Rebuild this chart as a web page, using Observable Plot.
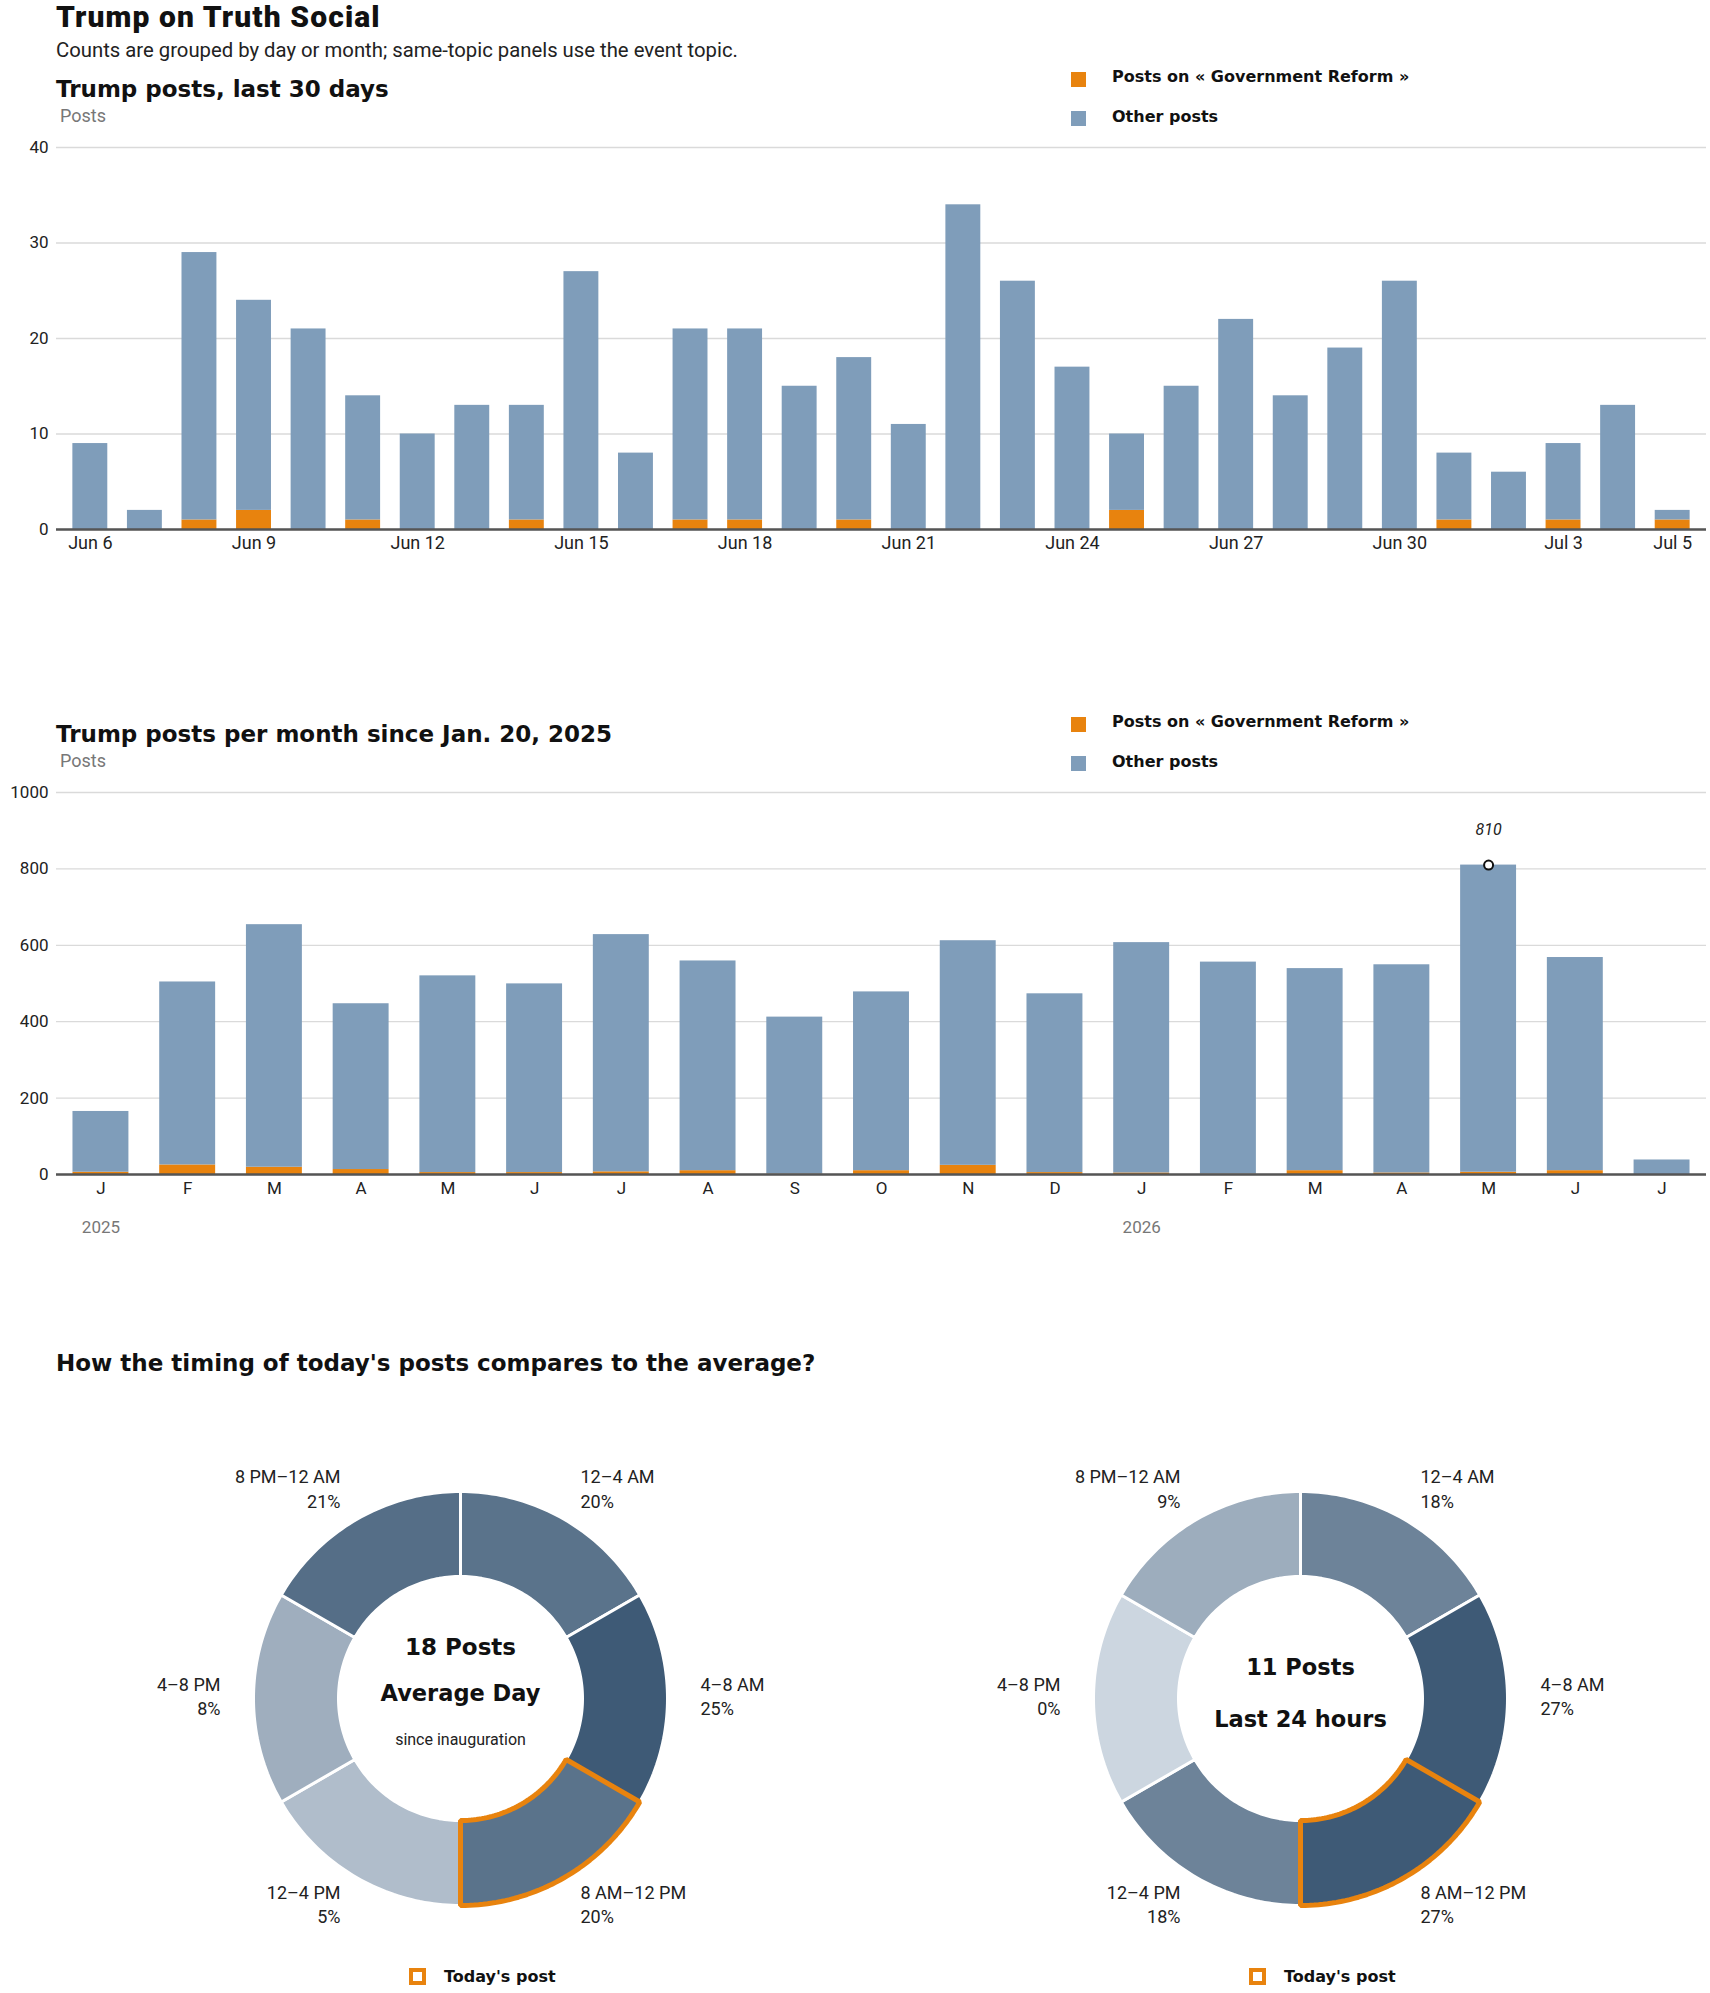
<!DOCTYPE html>
<html>
<head>
<meta charset="utf-8">
<script src="https://cdn.jsdelivr.net/npm/d3@7"></script>
<script src="https://cdn.jsdelivr.net/npm/@observablehq/plot@0.6"></script>
<style>
  body { margin: 0; background: #fff; }
  #page { position: relative; width: 1710px; height: 1993px; overflow: hidden;
          font-family: Roboto, "Noto Sans", sans-serif; color: #111; background: #fff; }
  .t { position: absolute; white-space: nowrap; line-height: 1; }
  .box { position: absolute; box-sizing: border-box; }
  .plot { position: absolute; }
</style>
</head>
<body>
<div id="page"></div>
<script>
// ---------------- data ----------------
const mainTitle = "Trump on Truth Social";
const subtitle = "Counts are grouped by day or month; same-topic panels use the event topic.";
const topicName = "Government Reform";
const legendLabels = [`Posts on « ${topicName} »`, "Other posts"];
const dayChartTitle = "Trump posts, last 30 days";
const monthChartTitle = "Trump posts per month since Jan. 20, 2025";
const yAxisLabel = "Posts";

const days = ["Jun 6","Jun 7","Jun 8","Jun 9","Jun 10","Jun 11","Jun 12","Jun 13","Jun 14","Jun 15",
  "Jun 16","Jun 17","Jun 18","Jun 19","Jun 20","Jun 21","Jun 22","Jun 23","Jun 24","Jun 25",
  "Jun 26","Jun 27","Jun 28","Jun 29","Jun 30","Jul 1","Jul 2","Jul 3","Jul 4","Jul 5"];
const dayTotals = [9, 2, 29, 24, 21, 14, 10, 13, 13, 27, 8, 21, 21, 15, 18, 11, 34, 26, 17, 10, 15, 22, 14, 19, 26, 8, 6, 9, 13, 2];
const dayTopic  = [0, 0, 1, 2, 0, 1, 0, 0, 1, 0, 0, 1, 1, 0, 1, 0, 0, 0, 0, 2, 0, 0, 0, 0, 0, 1, 0, 1, 0, 1];
const dayTicks = ["Jun 6","Jun 9","Jun 12","Jun 15","Jun 18","Jun 21","Jun 24","Jun 27","Jun 30","Jul 3","Jul 5"];
const dayYTicks = [0, 10, 20, 30, 40];

const months = ["2025-01","2025-02","2025-03","2025-04","2025-05","2025-06","2025-07","2025-08","2025-09",
  "2025-10","2025-11","2025-12","2026-01","2026-02","2026-03","2026-04","2026-05","2026-06","2026-07"];
const monthLetters = ["J","F","M","A","M","J","J","A","S","O","N","D","J","F","M","A","M","J","J"];
const monthTotals = [165, 504, 654, 447, 520, 499, 628, 559, 412, 478, 612, 473, 607, 556, 539, 549, 810, 568, 38];
const monthTopic  = [6, 25, 19, 13, 5, 5, 7, 10, 1, 10, 24, 5, 4, 1, 10, 4, 6, 10, 0];
const yearTicks = ["2025-01", "2026-01"];
const yearLabels = ["2025", "2026"];
const monthYTicks = [0, 200, 400, 600, 800, 1000];

const donutTitle = "How the timing of today's posts compares to the average?";
const timeSlots = ["12–4 AM", "4–8 AM", "8 AM–12 PM", "12–4 PM", "4–8 PM", "8 PM–12 AM"];
const avgShare = [20, 25, 20, 5, 8, 21];
const todayShare = [18, 27, 27, 18, 0, 9];
const avgCenter = ["18 Posts", "Average Day", "since inauguration"];
const todayCenter = ["11 Posts", "Last 24 hours"];
const todaySlot = "8 AM–12 PM";
const todayLegend = "Today's post";

// ---------------- styles ----------------
const ORANGE = "#e8830e", BLUE = "#7f9dba", GRID = "#dadada", AXIS = "#555";
const LIGHT = "#ccd6e0", DARK = "#3e5a76";
const FONT = "Roboto, 'Noto Sans', sans-serif";
const HEAVY = "'DejaVu Sans', Verdana, sans-serif";
const page = document.getElementById("page");

function text(str, x, baseline, size, weight, color, extra = {}) {
  const d = document.createElement("div");
  d.className = "t";
  d.textContent = str;
  Object.assign(d.style, {left: x + "px", top: (baseline - 0.845 * size) + "px",
    fontSize: size + "px", fontWeight: weight, color, ...extra});
  page.appendChild(d);
  return d;
}
function heavy(str, x, baseline, size) {
  return text(str, x, baseline, size, 700, "#111", {fontFamily: HEAVY});
}
function box(x, y, w, h, style) {
  const d = document.createElement("div");
  d.className = "box";
  Object.assign(d.style, {left: x + "px", top: y + "px", width: w + "px", height: h + "px", ...style});
  page.appendChild(d);
}
function place(svg, x, y) {
  svg.classList.add("plot");
  svg.style.left = x + "px";
  svg.style.top = y + "px";
  page.appendChild(svg);
}

// ---------------- header ----------------
text(mainTitle, 56, 27, 30, 900, "#111", {letterSpacing: "1.1px"});
text(subtitle, 56, 57.5, 20.3, 400, "#222");

// ---------------- bar charts ----------------
function barBlock({T, title, keys, totals, topic, ticks, tickFormat, tickSize, yTicks, yMax,
                   paddingInner, paddingOuter, height, marginBottom, extra}) {
  heavy(title, 56, T + 97, 23);
  text(yAxisLabel, 60, T + 122.3, 18, 400, "#777");
  box(1071, T + 71.7, 15, 15, {background: ORANGE});
  box(1071, T + 110.7, 15, 15, {background: BLUE});
  heavy(legendLabels[0], 1112, T + 82.3, 16);
  heavy(legendLabels[1], 1112, T + 122.3, 16);

  const rows = keys.flatMap((k, i) => [
    {k, s: "topic", n: topic[i]},
    {k, s: "other", n: totals[i] - topic[i]}
  ]);
  const svg = Plot.plot({
    width: 1710, height, marginTop: 17, marginBottom, marginLeft: 56, marginRight: 4,
    style: {fontFamily: FONT, fontSize: "17px", color: "#222", background: "transparent", overflow: "visible"},
    x: {type: "band", domain: keys, paddingInner, paddingOuter, round: false, label: null},
    y: {domain: [0, yMax], label: null},
    color: {domain: ["topic", "other"], range: [ORANGE, BLUE]},
    marks: [
      Plot.gridY({ticks: yTicks, stroke: GRID, strokeOpacity: 1, strokeWidth: 1.3}),
      Plot.axisY({ticks: yTicks, tickFormat: d3.format("d"), tickSize: 0, tickPadding: 8, label: null, fontSize: 17}),
      Plot.barY(rows, {x: "k", y: "n", fill: "s"}),
      Plot.ruleY([0], {stroke: AXIS, strokeWidth: 2.5}),
      Plot.axisX({ticks, tickFormat, tickSize: 0, tickPadding: 7, label: null, fontSize: tickSize}),
      ...(extra || [])
    ]
  });
  place(svg, 0, T + 130);
}

barBlock({
  T: 0, title: dayChartTitle, keys: days, totals: dayTotals, topic: dayTopic,
  ticks: dayTicks, tickFormat: d => d, tickSize: 18, yTicks: dayYTicks, yMax: 40,
  paddingInner: 0.36, paddingOuter: 0.3, height: 440, marginBottom: 41
});

const peak = d3.maxIndex(monthTotals);
barBlock({
  T: 645, title: monthChartTitle, keys: months, totals: monthTotals, topic: monthTopic,
  ticks: months, tickFormat: d => monthLetters[months.indexOf(d)], tickSize: 17,
  yTicks: monthYTicks, yMax: 1000, paddingInner: 0.355, paddingOuter: 0.19,
  height: 480, marginBottom: 81,
  extra: [
    Plot.axisX({ticks: yearTicks, tickFormat: d => yearLabels[yearTicks.indexOf(d)], tickSize: 0,
                tickPadding: 46, label: null, fontSize: 17, color: "#777"}),
    Plot.dot([peak], {x: i => months[i], y: i => monthTotals[i], r: 4.5, stroke: "#111",
                      strokeWidth: 2, fill: "white"}),
    Plot.text([peak], {x: i => months[i], y: i => monthTotals[i], text: i => String(monthTotals[i]),
                       dy: -35, fontSize: 16, fontStyle: "italic", fill: "#222"})
  ]
});

// ---------------- donuts ----------------
heavy(donutTitle, 56, 1371.7, 23);

const R = 207, W = 600, H = 540, INNER = 122 / R, LABEL_R = 240 / R;
function donut(shares, centerLines, cx, cy) {
  const step = 2 * Math.PI / timeSlots.length;
  const rows = [];
  timeSlots.forEach((slot, i) => {
    const a0 = i * step, a1 = (i + 1) * step, N = 48;
    for (let k = 0; k <= N; k++) {
      const a = a0 + (a1 - a0) * k / N;
      rows.push({slot, share: shares[i], x: Math.sin(a), y: -Math.cos(a)});
    }
    for (let k = N; k >= 0; k--) {
      const a = a0 + (a1 - a0) * k / N;
      rows.push({slot, share: shares[i], x: INNER * Math.sin(a), y: -INNER * Math.cos(a)});
    }
  });
  const labels = timeSlots.map((slot, i) => {
    const a = (i + 0.5) * step;
    return {text: `${slot}\n${shares[i]}%`, x: LABEL_R * Math.sin(a), y: -LABEL_R * Math.cos(a), right: Math.sin(a) > 0};
  });
  const big = {frameAnchor: "middle", text: d => d, fontSize: 22.5, fontWeight: 700, fontFamily: HEAVY, fill: "#111"};
  const centerMarks = centerLines.length === 3 ? [
    Plot.text([centerLines[0]], {...big, dy: -51, fontSize: 23}),
    Plot.text([centerLines[1]], {...big, dy: -5}),
    Plot.text([centerLines[2]], {frameAnchor: "middle", text: d => d, dy: 41, fontSize: 16, fill: "#222"})
  ] : [
    Plot.text([centerLines[0]], {...big, dy: -31}),
    Plot.text([centerLines[1]], {...big, dy: 21})
  ];
  const svg = Plot.plot({
    width: W, height: H, margin: 0,
    style: {fontFamily: FONT, fontSize: "18px", color: "#222", background: "transparent", overflow: "visible"},
    x: {domain: [-W / 2 / R, W / 2 / R], range: [0, W], axis: null},
    y: {domain: [-H / 2 / R, H / 2 / R], range: [0, H], axis: null},
    color: {type: "linear", domain: [0, d3.max(shares)], range: [LIGHT, DARK], interpolate: "rgb"},
    marks: [
      Plot.line(rows, {x: "x", y: "y", z: "slot", fill: "share", stroke: "white", strokeWidth: 3, curve: "linear-closed"}),
      Plot.line(rows.filter(d => d.slot === todaySlot), {x: "x", y: "y", stroke: ORANGE, strokeWidth: 5,
        fill: "none", curve: "linear-closed", strokeLinejoin: "miter"}),
      Plot.text(labels.filter(d => d.right), {x: "x", y: "y", text: "text", textAnchor: "start", dy: -3,
        lineAnchor: "middle", lineHeight: 1.355, fontSize: 18, fill: "#222"}),
      Plot.text(labels.filter(d => !d.right), {x: "x", y: "y", text: "text", textAnchor: "end", dy: -3,
        lineAnchor: "middle", lineHeight: 1.355, fontSize: 18, fill: "#222"}),
      ...centerMarks
    ]
  });
  place(svg, cx - W / 2, cy - H / 2);
  // legend
  box(cx - 51, 1968, 17, 17, {border: `4px solid ${ORANGE}`, background: "#fff"});
  heavy(todayLegend, cx - 16, 1983, 16);
}
donut(avgShare, avgCenter, 460, 1698);
donut(todayShare, todayCenter, 1300, 1698);
</script>
</body>
</html>
